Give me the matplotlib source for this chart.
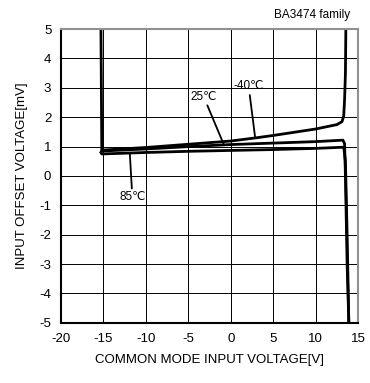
import matplotlib.pyplot as plt
import numpy as np

plt.rcParams['font.family'] = ['Liberation Sans', 'DejaVu Sans']
plt.rcParams['axes.unicode_minus'] = False

# curve data (common mode voltage [V], offset [mV])
x_m40 = [-15.3, -15.2, -10, -5, 0, 3, 5, 10, 12.5, 13.1, 13.3, 13.4, 13.5, 13.55]
y_m40 = [5.0, 0.88, 0.97, 1.08, 1.19, 1.3, 1.38, 1.6, 1.75, 1.85, 2.05, 2.6, 3.5, 5.0]

x_25 = [-15.2, -10, -5, 0, 5, 10, 13.2, 13.4, 13.5, 13.7, 13.9]
y_25 = [0.85, 0.92, 1.0, 1.07, 1.12, 1.17, 1.22, 1.1, 0.0, -3.0, -5.0]

x_85 = [-15.3, -15.2, -10, -5, 0, 5, 10, 13.3, 13.5, 13.7, 13.9]
y_85 = [0.8, 0.75, 0.8, 0.84, 0.87, 0.9, 0.94, 0.98, 0.5, -2.0, -5.0]

xticks = [-20, -15, -10, -5, 0, 5, 10, 15]
yticks = [-5, -4, -3, -2, -1, 0, 1, 2, 3, 4, 5]

fig = plt.figure(figsize=(3.7, 3.83), dpi=100)
ax = fig.add_axes([0.165, 0.157, 0.803, 0.767])

for xs, ys in [(x_m40, y_m40), (x_25, y_25), (x_85, y_85)]:
    ax.plot(xs, ys, color='black', lw=2.0, solid_joinstyle='round')

ax.set_xlim(-20, 15)
ax.set_ylim(-5, 5)
ax.set_xticks(xticks)
ax.set_yticks(yticks)
ax.grid(True, color='black', lw=0.7)
ax.tick_params(length=0, labelsize=9.5, pad=7)

for s in ['top', 'right']:
    ax.spines[s].set_color('#909090')
    ax.spines[s].set_linewidth(1.5)
for s in ['left', 'bottom']:
    ax.spines[s].set_color('black')
    ax.spines[s].set_linewidth(1.5)

ax.set_xlabel('COMMON MODE INPUT VOLTAGE[V]', fontsize=9.5, labelpad=7)
ax.set_ylabel('INPUT OFFSET VOLTAGE[mV]', fontsize=9.5, labelpad=8)

# labels with leader lines
arr = dict(arrowstyle='-', color='black', lw=1.3, shrinkA=0, shrinkB=0)
ax.annotate('-40℃', xy=(2.85, 1.34), xytext=(2.1, 2.85), fontsize=8.5,
            ha='center', va='bottom', arrowprops=arr)
ax.annotate('25℃', xy=(-0.8, 1.05), xytext=(-3.2, 2.5), fontsize=8.5,
            ha='center', va='bottom', arrowprops=arr)
ax.annotate('85℃', xy=(-11.9, 0.77), xytext=(-11.6, -0.52), fontsize=8.5,
            ha='center', va='top', arrowprops=arr)

fig.text(0.946, 0.945, 'BA3474 family', fontsize=8.5, ha='right', va='bottom')

fig.savefig('out.png', dpi=100)
